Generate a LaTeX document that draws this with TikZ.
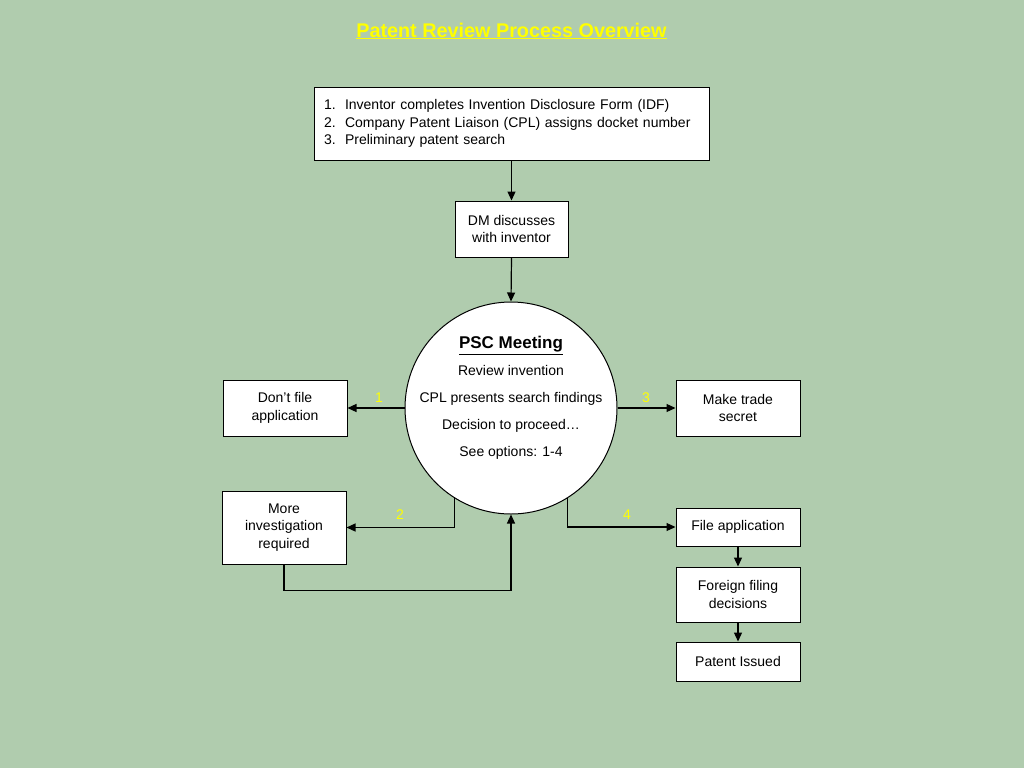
\documentclass[tikz,border=0pt]{standalone}
\usepackage{fontspec}
\setmainfont{Liberation Sans}
\usetikzlibrary{arrows.meta,calc}
\definecolor{bg}{RGB}{176,204,174}
\definecolor{ttl}{RGB}{255,255,0}
\begin{document}
\begin{tikzpicture}[x=1pt,y=-1pt,
  box/.style={draw=black,fill=white,line width=1pt,inner sep=0pt,align=center,font=\fontsize{14}{17.5}\selectfont},
  conn/.style={line width=1.2pt,-{Triangle[length=9pt,width=8pt]}},
  lbl/.style={text=ttl,font=\fontsize{14}{15}\selectfont,inner sep=0pt}]
\fill[bg] (0,0) rectangle (1024,768);
\useasboundingbox (0,0) rectangle (1024,768);
\node[text=ttl,font=\fontsize{19.8}{22}\selectfont\bfseries,inner sep=0pt] (title) at (511.5,31) {\underline{Patent Review Process Overview}};
\node[box,minimum width=395,minimum height=73,text width=375pt,align=left] (top) at (511.5,123.5)
 {\makebox[21pt][l]{1.}Inventor completes Invention Disclosure Form (IDF)\\
  \makebox[21pt][l]{2.}Company Patent Liaison (CPL) assigns docket number\\
  \makebox[21pt][l]{3.}Preliminary patent search};
\node[box,minimum width=113,minimum height=56] (dm) at (511.5,229) {DM discusses\\with inventor};
\node[draw=black,fill=white,line width=1pt,circle,minimum size=212,inner sep=0pt] (psc) at (511,408) {};
\node[align=center,inner sep=0pt,font=\fontsize{14}{27}\selectfont] (psctext) at (511,398)
 {{\fontsize{17}{27}\selectfont\bfseries\underline{PSC Meeting}}\\Review invention\\CPL presents search findings\\Decision to proceed\ldots\\See options: 1-4};
\node[box,minimum width=124,minimum height=56] (dont) at (285,408) {Don’t file\\application};
\node[box,minimum width=124,minimum height=73] (more) at (284,527.5) {More\\investigation\\required};
\node[box,minimum width=124,minimum height=56] (trade) at (738,408) {Make trade\\secret};
\node[box,minimum width=124,minimum height=38] (file) at (738,527) {File application};
\node[box,minimum width=124,minimum height=55] (foreign) at (738,594.5) {Foreign filing\\decisions};
\node[box,minimum width=124,minimum height=39] (issued) at (738,661.5) {Patent Issued};
\draw[conn] (top.south) -- (dm.north);
\draw[conn] (dm.south) -- (psc.north);
\draw[conn] (psc.west) -- (dont.east);
\draw[conn] (psc.east) -- (trade.west);
\draw[conn] (psc.238) |- (more.east);
\draw[conn] (psc.302) |- (file.west);
\draw[conn] (more.south) -- ++(0,26) -| (psc.south);
\draw[conn] (file.south) -- (foreign.north);
\draw[conn] (foreign.south) -- (issued.north);
\node[lbl] (l1) at (379,398) {1};
\node[lbl] (l2) at (400,515) {2};
\node[lbl] (l3) at (646,398) {3};
\node[lbl] (l4) at (627,515) {4};
\end{tikzpicture}
\end{document}
